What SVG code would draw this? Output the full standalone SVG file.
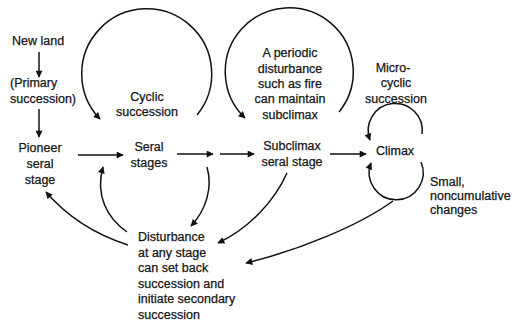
<svg xmlns="http://www.w3.org/2000/svg" width="518" height="325" viewBox="0 0 518 325">
<defs>
<marker id="ah" viewBox="0 0 10 10" refX="9" refY="5" markerWidth="8" markerHeight="7" markerUnits="userSpaceOnUse" orient="auto">
<path d="M0,0 L10,5 L0,10 Z" fill="#111"/>
</marker>
<style>
text{font-family:"Liberation Sans",Arial,sans-serif;font-size:12.5px;fill:#151515;stroke:#151515;stroke-width:0.25}
.m{text-anchor:middle}
.big{font-size:13px}
.c path{fill:none;stroke:#111;stroke-width:1.5;marker-end:url(#ah)}
</style>
</defs>
<rect width="518" height="325" fill="#fff"/>
<g id="newland"><text x="12" y="45">New land</text></g>
<g id="primary"><text x="10" y="87">(Primary</text><text x="10" y="103">succession)</text></g>
<g id="pioneer"><text class="m" x="40" y="152">Pioneer</text><text class="m" x="40" y="168">seral</text><text class="m" x="40" y="184">stage</text></g>
<g id="seral"><text class="m" x="149" y="151">Seral</text><text class="m" x="149" y="167">stages</text></g>
<g id="cyclic"><text class="m" x="147" y="101">Cyclic</text><text class="m" x="147" y="116">succession</text></g>
<g id="periodic"><text class="m" x="290" y="57">A periodic</text><text class="m" x="290" y="73">disturbance</text><text class="m" x="290" y="88">such as fire</text><text class="m" x="290" y="103">can maintain</text><text class="m" x="290" y="119">subclimax</text></g>
<g id="subclimax"><text class="m" x="292" y="150">Subclimax</text><text class="m" x="292" y="166">seral stage</text></g>
<g id="micro"><text class="m" x="393" y="72">Micro-</text><text class="m" x="396" y="87">cyclic</text><text class="m" x="396" y="103">succession</text></g>
<g id="climax"><text class="m" x="395" y="155">Climax</text></g>
<g id="small"><text x="430" y="186">Small,</text><text x="430" y="200">noncumulative</text><text x="430" y="214">changes</text></g>
<g id="disturbance" class="big"><text x="138" y="241">Disturbance</text><text x="138" y="257">at any stage</text><text x="138" y="272">can set back</text><text x="138" y="288">succession and</text><text x="138" y="303">initiate secondary</text><text x="138" y="319">succession</text></g>
<g id="connectors" class="c">
<path d="M39,52 L39,77"/>
<path d="M39,109 L39,137"/>
<path d="M78,155 L123,155"/>
<path d="M177,154 L213,154"/>
<path d="M220,154 L254,154"/>
<path d="M330,154 L366,154"/>
<path d="M197,115 A65,65 0 1 0 100,119"/>
<path d="M339,112 A64,64 0 1 0 245,118"/>
<path d="M422,134 A27,27 0 1 0 370,140"/>
<path d="M421,162 A27,27 0 1 1 371,163"/>
<path d="M128,245 Q78,229 46,192"/>
<path d="M127,232 C107,218 95,195 103,167"/>
<path d="M207,167 C213,188 206,210 191,226"/>
<path d="M287,173 C275,200 250,228 218,243"/>
<path d="M393,201 C360,225 300,250 246,263"/>
</g>
</svg>
